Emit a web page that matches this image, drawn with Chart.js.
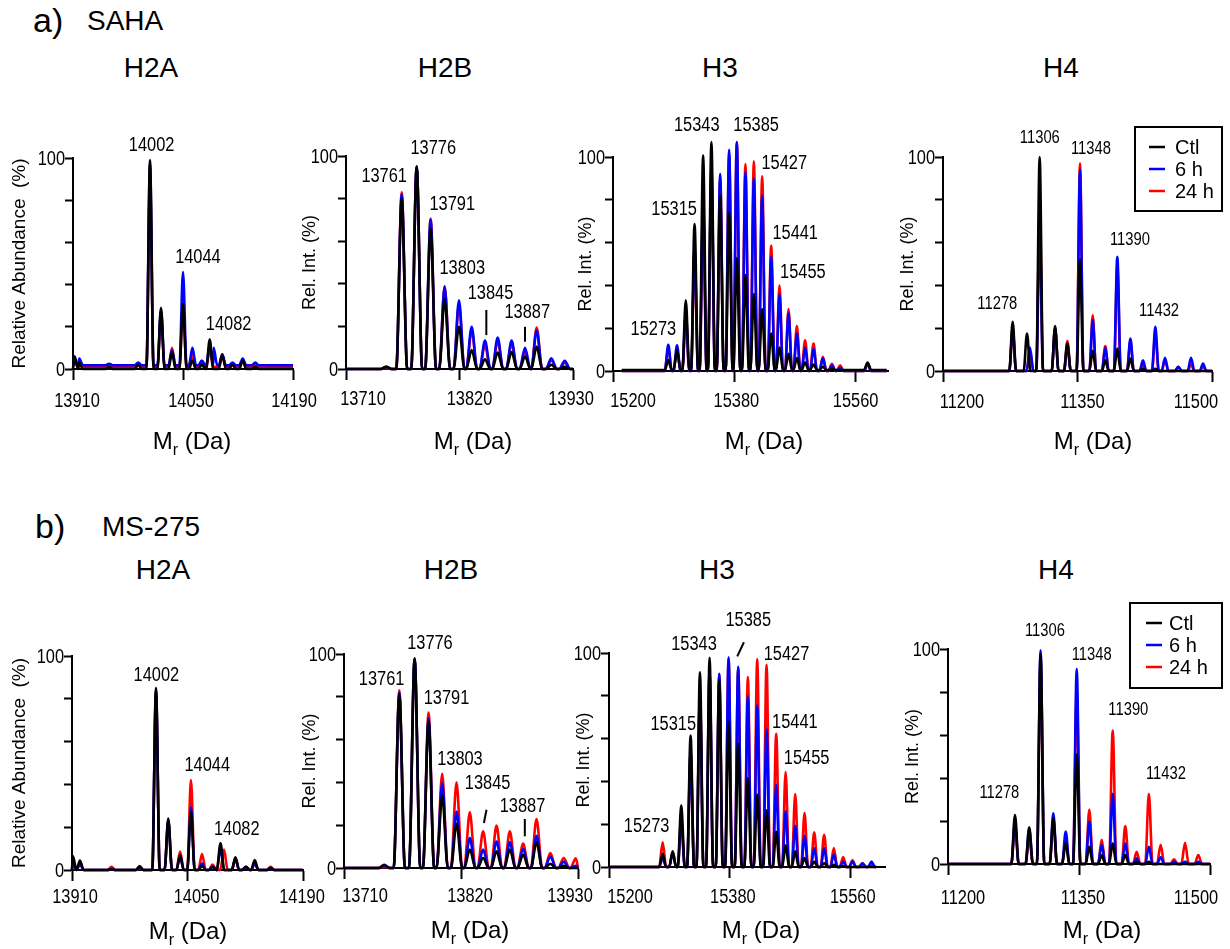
<!DOCTYPE html>
<html>
<head>
<meta charset="utf-8">
<script src="https://cdn.jsdelivr.net/npm/chart.js@4.4.1/dist/chart.umd.min.js"></script>
<style>
  html, body { margin: 0; padding: 0; background: #fff; }
  body { width: 1230px; height: 949px; position: relative; overflow: hidden; font-family: "Liberation Sans", Arial, sans-serif; }
  .txt { position: absolute; white-space: nowrap; line-height: 1.15; color: #000; }
  .ctr { transform: translateX(-50%); }
  canvas { position: absolute; }
</style>
</head>
<body>
<div class="txt" style="left:33px; top:1px; font-size:34px">a)</div>
<div class="txt" style="left:87px; top:5px; font-size:28px">SAHA</div>
<div class="txt ctr" style="left:151px; top:52px; font-size:28px">H2A</div>
<div class="txt ctr" style="left:445px; top:52px; font-size:28px">H2B</div>
<div class="txt ctr" style="left:720px; top:52px; font-size:28px">H3</div>
<div class="txt ctr" style="left:1061px; top:52px; font-size:28px">H4</div>

<div class="txt" style="left:35px; top:507px; font-size:34px">b)</div>
<div class="txt" style="left:102px; top:511px; font-size:28px">MS-275</div>
<div class="txt ctr" style="left:163px; top:554px; font-size:28px">H2A</div>
<div class="txt ctr" style="left:451px; top:554px; font-size:28px">H2B</div>
<div class="txt ctr" style="left:717px; top:554px; font-size:28px">H3</div>
<div class="txt ctr" style="left:1056px; top:554px; font-size:28px">H4</div>

<script>
// series: Ctl (black), 6 h (blue), 24 h (red); peak apex masses and heights (%)
const seriesNames = ['Ctl', '6 h', '24 h'];
const yTickLabels = [0, 100];

// ---- a) SAHA ----
const aH2A_ticks = [13910, 14050, 14190];
const aH2A_mass = [13912, 13918, 13956, 13993, 14008, 14022, 14036, 14050, 14062, 14074, 14084, 14089, 14100, 14113, 14126, 14142];
const aH2A_ctl  = [6, 3, 1, 2, 99, 29, 8, 31, 4, 2, 14, 0, 7, 2, 4, 1];
const aH2A_6h   = [3, 5, 2.5, 3, 97, 28, 9, 46, 10, 4, 11, 10, 7, 3, 5, 3];
const aH2A_24h  = [3, 4, 2, 2, 90, 27, 10, 30, 7, 3, 9, 0, 6, 2, 4, 2];
const aH2A_base = [0, 1.8, 1];
const aH2A_labels = [['14002', 14010, 105.8], ['14044', 14069, 53], ['14082', 14108, 20.9]];

const aH2B_ticks = [13710, 13820, 13930];
const aH2B_mass = [13749, 13764, 13778.5, 13792, 13805.6, 13819.5, 13831.8, 13844.7, 13857, 13870.5, 13883.5, 13894.8, 13909, 13922];
const aH2B_ctl  = [1, 80, 95, 66, 32.7, 19.8, 8.9, 4.5, 7.7, 8, 5.8, 10.5, 2, 1];
const aH2B_6h   = [1, 82, 95, 70, 38.6, 32.3, 19.8, 13.3, 14.8, 13.3, 10, 18, 5, 3.9];
const aH2B_24h  = [0.5, 83, 95, 70.6, 39, 30, 18, 11, 13, 12, 8, 19.5, 4, 3];
const aH2B_base = [0, 0, 0];
const aH2B_labels = [['13761', 13747, 90.2], ['13776', 13794.6, 103.4], ['13791', 13813, 77.3],
                     ['13803', 13822.7, 47.2], ['13845', 13850, 35.5], ['13887', 13885.7, 26.4]];
const aH2B_marks = [[13846, 27.7, 13846, 15.9], [13883.5, 19.8, 13883.5, 12.8]];

const aH3_ticks = [15200, 15380, 15560];
const aH3_mass = [15282, 15295, 15308, 15321, 15333.7, 15346, 15359, 15372.3, 15383.7, 15396.5, 15409,
                  15421.3, 15434.7, 15447, 15460.4, 15472.8, 15485, 15497.5, 15511.4, 15524.8, 15537, 15577.7];
const aH3_ctl  = [5, 9.7, 33, 68.7, 100.8, 107, 82, 74, 52.7, 44.8, 36, 29, 17.5, 11, 8, 6, 4, 3, 2, 1, 0.5, 4];
const aH3_6h   = [12.3, 12, 27, 57.6, 78, 95, 92, 103.4, 107, 92.8, 90, 82, 53.4, 36, 27, 17.5, 11, 10.5, 6, 2.7, 1.5, 3.5];
const aH3_24h  = [11, 10, 25, 53, 75, 90, 90, 101, 107, 96.7, 98, 91, 58.6, 40, 29, 21, 14.4, 12.8, 6.6, 3.4, 2.7, 3.5];
const aH3_base = [0.5, 0, 0];
const aH3_labels = [['15343', 15324.3, 114.7], ['15385', 15412.4, 114.7], ['15427', 15454, 97.2], ['15315', 15290.6, 75.3],
                    ['15441', 15470.3, 64.4], ['15455', 15481.7, 46.1], ['15273', 15259.9, 19.4]];

const aH4_ticks = [11200, 11350, 11500];
const aH4_mass = [11277.7, 11293.7, 11297, 11307.8, 11325, 11338.7, 11352.8, 11367, 11381, 11394.4, 11409, 11423, 11436.8, 11447.6, 11462.4, 11476.6, 11490];
const aH4_ctl  = [23, 17.5, 0, 100, 21, 12.8, 52, 9.4, 5, 10.5, 5.8, 1, 1, 0, 0, 0, 0];
const aH4_6h   = [20, 0, 11, 64, 20, 12, 94, 23.8, 11, 53.4, 15.2, 5, 20.6, 6.2, 2, 6.2, 3.5];
const aH4_24h  = [18, 0, 9, 74, 20, 14, 97, 26, 11.7, 48.4, 14, 3, 17, 5, 2, 3, 2];
const aH4_base = [0, 0, 0];
const aH4_labels = [['11306', 11308, 109], ['11348', 11365, 103.5], ['11390', 11408.5, 61.3], ['11278', 11260.6, 31.3], ['11432', 11441, 28.1]];

// ---- b) MS-275 ----
const bH2A_ticks = [13910, 14050, 14190];
const bH2A_mass = [13911, 13919.6, 13957.9, 13992, 14011.8, 14026.7, 14041, 14054.2, 14067.6, 14080.4, 14090, 14094.2, 14108.1, 14120.9, 14131.5, 14150.7];
const bH2A_ctl  = [6.5, 4.4, 0.5, 1.9, 85, 24, 7, 27.3, 2, 1.5, 12.5, 0, 5.9, 1.5, 4.7, 1];
const bH2A_6h   = [4, 3, 0.5, 1, 84, 23, 6, 29.3, 3, 1.5, 10, 0, 5.5, 1.5, 3, 0.5];
const bH2A_24h  = [4, 3, 1.5, 1, 83, 23, 8.6, 42, 7.5, 2.5, 0, 9.5, 5, 1.5, 3, 1.5];
const bH2A_base = [0, 0, 0];
const bH2A_labels = [['14002', 14012.2, 91.1], ['14044', 14074, 49], ['14082', 14109.7, 18.7]];

const bH2B_ticks = [13710, 13820, 13930];
const bH2B_mass = [13747.8, 13762, 13776.4, 13789.5, 13802.3, 13815.8, 13828.3, 13840.8, 13853.4, 13865.9, 13878.4, 13891, 13904, 13916.6, 13928];
const bH2B_ctl  = [1.5, 81, 98, 68.4, 33.9, 20.7, 8.6, 4.7, 7.8, 8.6, 6.2, 12, 2, 1, 0];
const bH2B_6h   = [1, 82, 98, 70, 39.7, 26.4, 14, 8.6, 12.4, 12, 9, 15.1, 5.4, 3, 1];
const bH2B_24h  = [0.5, 83, 97.5, 72.6, 44, 40.1, 26, 17.1, 19.8, 17.1, 11.4, 22.9, 7, 4.7, 4.5];
const bH2B_base = [0, 0, 0];
const bH2B_labels = [['13761', 13745.4, 88.2], ['13776', 13790.8, 104.7], ['13791', 13806.4, 79.3],
                     ['13803', 13819, 50.5], ['13845', 13845, 39.3], ['13887', 13877.8, 28.7]];
const bH2B_marks = [[13844, 27.2, 13841.5, 21], [13880, 22.9, 13880, 14.8]];

const bH3_ticks = [15200, 15380, 15560];
const bH3_mass = [15279.9, 15294.8, 15307.6, 15321.5, 15335.4, 15349.8, 15364.2, 15378.1, 15392.4, 15406.8, 15420.7, 15434.6,
                  15449, 15463, 15477.3, 15491.2, 15505.6, 15520.4, 15534.8, 15548.7, 15562.6, 15577.5, 15590.9];
const bH3_ctl  = [6.2, 7.3, 28.8, 61.4, 91, 97.7, 87.5, 67.6, 57.6, 41.6, 33.8, 26.5, 16.4, 10.1, 7.3, 4.2, 2.6, 1.9, 1, 0.5, 0, 0, 0];
const bH3_6h   = [4.2, 6.5, 22, 53.6, 80.5, 91, 90.3, 98, 93.5, 79.7, 75.4, 64.2, 38.5, 26, 19.3, 14.6, 8.9, 8.9, 5.8, 2.6, 2.6, 1.6, 2.6];
const bH3_24h  = [11.5, 6.9, 21, 53, 80, 90.7, 90, 97, 93, 88.8, 97.2, 94.5, 62.3, 44.4, 34.1, 25.2, 16.2, 15.1, 8.9, 4.7, 3.1, 1.9, 1];
const bH3_base = [0, 0, 0];
const bH3_labels = [['15385', 15407.4, 115.2], ['15343', 15326.5, 103.9], ['15427', 15464.4, 99.2], ['15315', 15295.7, 66.5],
                    ['15441', 15476.8, 67.6], ['15455', 15494.2, 50.5], ['15273', 15256, 18.7]];
const bH3_marks = [[15400.9, 105, 15391, 98.4]];

const bH4_ticks = [11200, 11350, 11500];
const bH4_mass = [11276.7, 11293, 11306, 11320.6, 11334.8, 11347.4, 11361.8, 11376, 11388.6, 11403, 11416, 11430, 11443.5, 11458.8, 11471.4, 11486.6];
const bH4_ctl  = [22.8, 17.1, 97.8, 21.3, 9.6, 50.8, 8, 4, 9.6, 4.2, 1, 1, 0, 0, 0, 0];
const bH4_6h   = [20, 16, 99.4, 23.6, 15.1, 90.7, 19.7, 8.9, 32.6, 9.6, 2.6, 8, 3.1, 1, 1, 1];
const bH4_24h  = [17, 12, 95, 20, 12, 80.7, 25.2, 11.2, 62.1, 17.7, 5.7, 32.6, 8.9, 2.2, 9.9, 4.2];
const bH4_base = [0, 0, 0];
const bH4_labels = [['11306', 11311, 108.4], ['11348', 11364.5, 97.4], ['11390', 11406.5, 71.8], ['11278', 11258.8, 33.2], ['11432', 11449.6, 41.9]];

// ---- layout / style ----
const FONT = '"Liberation Sans", Arial, sans-serif';
const SQUEEZE = 0.82;   // condensed look for numbers
const COLORS = ['#000000', '#0000ff', '#ff0000'];
const Y_W = 75, X_H = 95, PAD_T = 80, PAD_R = 30;
const REL = 'Rel. Int. (%)';

const panels = [
  { L: 73, R: 293, T: 158, B: 369, xmin: 13910, xmax: 14190, ticks: aH2A_ticks, mass: aH2A_mass, ys: [aH2A_ctl, aH2A_6h, aH2A_24h],
    base: aH2A_base, end: [13910, 14190], hw: 4.5, labels: aH2A_labels, marks: [], lab: 20,
    tOff: [4, 8, 1], tBase: 38,
    yTitle: 'Relative Abundance  (%)', yFont: 19, yDx: 53, xtX: 192, xtY: 449 },
  { L: 346, R: 573, T: 156, B: 369, xmin: 13710, xmax: 13930, ticks: aH2B_ticks, mass: aH2B_mass, ys: [aH2B_ctl, aH2B_6h, aH2B_24h],
    base: aH2B_base, end: [13710, 13930], hw: 5.3, labels: aH2B_labels, marks: aH2B_marks, lab: 20,
    tOff: [17, 10, -2], tBase: 36,
    yTitle: REL, yFont: 18, yDx: 36, xtX: 473, xtY: 449 },
  { L: 613, R: 888, T: 157, B: 371, xmin: 15200, xmax: 15608, ticks: aH3_ticks, mass: aH3_mass, ys: [aH3_ctl, aH3_6h, aH3_24h],
    base: aH3_base, end: [15213, 15606], hw: 5.2, labels: aH3_labels, marks: [], lab: 20,
    tOff: [20, 2, 0], tBase: 36,
    yTitle: REL, yFont: 18, yDx: 27, xtX: 764, xtY: 449 },
  { L: 943, R: 1212, T: 157, B: 371, xmin: 11200, xmax: 11500, ticks: aH4_ticks, mass: aH4_mass, ys: [aH4_ctl, aH4_6h, aH4_24h],
    base: aH4_base, end: [11200, 11500], hw: 3.8, labels: aH4_labels, marks: [], lab: 18,
    tOff: [19, 5, -16], tBase: 37,
    yTitle: REL, yFont: 18, yDx: 35, xtX: 1093, xtY: 449,
    legend: { x1: 1135, y1: 127, x2: 1222, y2: 211, rows: [147, 169, 191], s1: 1149, s2: 1165, tx: 1175 } },
  { L: 72, R: 303, T: 656, B: 870, xmin: 13910, xmax: 14190, ticks: bH2A_ticks, mass: bH2A_mass, ys: [bH2A_ctl, bH2A_6h, bH2A_24h],
    base: bH2A_base, end: [13910, 14190], hw: 4.5, labels: bH2A_labels, marks: [], lab: 20,
    tOff: [3, 9, -1], tBase: 33,
    yTitle: 'Relative Abundance  (%)', yFont: 19, yDx: 52, xtX: 188, xtY: 939 },
  { L: 344, R: 578, T: 654, B: 868, xmin: 13710, xmax: 13930, ticks: bH2B_ticks, mass: bH2B_mass, ys: [bH2B_ctl, bH2B_6h, bH2B_24h],
    base: bH2B_base, end: [13710, 13930], hw: 5.3, labels: bH2B_labels, marks: bH2B_marks, lab: 20,
    tOff: [21, 9, -8], tBase: 34,
    yTitle: REL, yFont: 18, yDx: 34, xtX: 470, xtY: 938 },
  { L: 609, R: 885, T: 653, B: 867, xmin: 15200, xmax: 15611, ticks: bH3_ticks, mass: bH3_mass, ys: [bH3_ctl, bH3_6h, bH3_24h],
    base: bH3_base, end: [15200, 15598], hw: 5.2, labels: bH3_labels, marks: bH3_marks, lab: 20,
    tOff: [21, 3, 2], tBase: 36,
    yTitle: REL, yFont: 18, yDx: 25, xtX: 761, xtY: 938 },
  { L: 948, R: 1210, T: 649, B: 864, xmin: 11200, xmax: 11500, ticks: bH4_ticks, mass: bH4_mass, ys: [bH4_ctl, bH4_6h, bH4_24h],
    base: bH4_base, end: [11200, 11500], hw: 4.2, labels: bH4_labels, marks: [], lab: 18,
    tOff: [15, 4, -14], tBase: 40,
    yTitle: REL, yFont: 18, yDx: 35, xtX: 1102, xtY: 938,
    legend: { x1: 1130, y1: 603, x2: 1222, y2: 688, rows: [623, 645, 667], s1: 1146, s2: 1162, tx: 1169 } }
];

// peak list -> line points (baseline, apex, baseline)
function peakCurve(mass, heights, base, end, hw) {
  const pts = [{ x: end[0], y: base }];
  const add = (x, y) => {
    if (x > pts[pts.length - 1].x && x <= end[1]) pts.push({ x, y });
  };
  mass.forEach((m, i) => {
    const h = heights[i];
    if (h <= base) return;
    add(m - hw, base);
    add(m, h);
    add(m + hw, base);
  });
  add(end[1], base);
  return pts;
}

function narrowText(ctx, t, x, y, align) {
  ctx.save();
  ctx.translate(x, y);
  ctx.scale(SQUEEZE, 1);
  ctx.textAlign = align;
  ctx.fillText(t, 0, 0);
  ctx.restore();
}

function decor(p, cLeft, cTop) {
  return {
    id: 'decor',
    afterDatasetsDraw(chart) {
      const ctx = chart.ctx, xs = chart.scales.x, ys = chart.scales.y, a = chart.chartArea;
      ctx.save();
      ctx.fillStyle = '#000';
      ctx.strokeStyle = '#000';
      // tick labels
      ctx.font = '20px ' + FONT;
      ctx.textBaseline = 'alphabetic';
      p.ticks.forEach((v, i) => narrowText(ctx, String(v), xs.getPixelForValue(v) + p.tOff[i], a.bottom + p.tBase, 'center'));
      ctx.textBaseline = 'middle';
      yTickLabels.forEach(v => narrowText(ctx, String(v), a.left - 8, ys.getPixelForValue(v) + 1, 'right'));
      // peak labels
      ctx.font = p.lab + 'px ' + FONT;
      p.labels.forEach(([t, x, y]) => narrowText(ctx, t, xs.getPixelForValue(x), ys.getPixelForValue(y), 'center'));
      // pointer marks
      ctx.lineWidth = 2;
      p.marks.forEach(([x1, y1, x2, y2]) => {
        ctx.beginPath();
        ctx.moveTo(xs.getPixelForValue(x1), ys.getPixelForValue(y1));
        ctx.lineTo(xs.getPixelForValue(x2), ys.getPixelForValue(y2));
        ctx.stroke();
      });
      // y title
      ctx.save();
      ctx.translate(a.left - p.yDx, (a.top + a.bottom) / 2);
      ctx.rotate(-Math.PI / 2);
      ctx.font = p.yFont + 'px ' + FONT;
      ctx.textAlign = 'center';
      ctx.fillText(p.yTitle, 0, 0);
      ctx.restore();
      // x title: M_r (Da)
      const big = '24px ' + FONT, small = '16px ' + FONT;
      ctx.textAlign = 'left';
      ctx.textBaseline = 'alphabetic';
      ctx.font = big; const wM = ctx.measureText('M').width, wRest = ctx.measureText(' (Da)').width;
      ctx.font = small; const wr = ctx.measureText('r').width;
      const x0 = p.xtX - cLeft - (wM + wr + wRest) / 2;
      const yb = p.xtY - cTop;
      ctx.font = big; ctx.fillText('M', x0, yb);
      ctx.font = small; ctx.fillText('r', x0 + wM, yb + 6);
      ctx.font = big; ctx.fillText(' (Da)', x0 + wM + wr, yb);
      // legend
      if (p.legend) {
        const g = p.legend;
        ctx.lineWidth = 2;
        ctx.strokeRect(g.x1 - cLeft, g.y1 - cTop, g.x2 - g.x1, g.y2 - g.y1);
        ctx.font = '20px ' + FONT;
        ctx.textBaseline = 'middle';
        seriesNames.forEach((name, i) => {
          const y = g.rows[i] - cTop;
          ctx.strokeStyle = COLORS[i];
          ctx.lineWidth = 2.5;
          ctx.beginPath();
          ctx.moveTo(g.s1 - cLeft, y);
          ctx.lineTo(g.s2 - cLeft, y);
          ctx.stroke();
          ctx.fillText(name, g.tx - cLeft, y + 1);
        });
      }
      ctx.restore();
    }
  };
}

panels.forEach(p => {
  const cLeft = p.L - Y_W, cTop = p.T - PAD_T;
  const w = p.R - p.L + Y_W + PAD_R, h = p.B - p.T + PAD_T + X_H;
  const cv = document.createElement('canvas');
  cv.width = w; cv.height = h;
  cv.style.left = cLeft + 'px'; cv.style.top = cTop + 'px';
  cv.style.width = w + 'px'; cv.style.height = h + 'px';
  document.body.appendChild(cv);

  const datasets = p.ys.map((vals, i) => ({
    label: seriesNames[i],
    data: peakCurve(p.mass, vals, p.base[i], p.end, p.hw),
    borderColor: COLORS[i],
    borderWidth: 2.6,
    pointRadius: 0,
    cubicInterpolationMode: 'monotone',
    clip: false,
    fill: false
  }));

  new Chart(cv.getContext('2d'), {
    type: 'line',
    data: { datasets },
    options: {
      responsive: false,
      animation: false,
      devicePixelRatio: 1,
      layout: { padding: { left: 0, top: PAD_T, right: PAD_R, bottom: 0 } },
      plugins: { legend: { display: false }, tooltip: { enabled: false } },
      scales: {
        x: {
          type: 'linear', min: p.xmin, max: p.xmax,
          afterBuildTicks: s => { s.ticks = p.ticks.map(v => ({ value: v })); },
          afterFit: s => { s.height = X_H; s.paddingLeft = 0; s.paddingRight = 0; },
          ticks: { callback: v => String(v), color: 'rgba(0,0,0,0)', font: { family: FONT, size: 19 }, maxRotation: 0, autoSkip: false },
          grid: { display: true, drawOnChartArea: false, drawTicks: true, tickLength: 11, tickWidth: 2, tickColor: '#000' },
          border: { display: true, color: '#000', width: 2 }
        },
        y: {
          min: 0, max: 100,
          afterFit: s => { s.width = Y_W; s.paddingTop = 0; s.paddingBottom = 0; },
          ticks: { stepSize: 20, callback: v => String(v), color: 'rgba(0,0,0,0)', font: { family: FONT, size: 19 } },
          grid: { display: true, drawOnChartArea: false, drawTicks: true, tickLength: 8, tickWidth: 2, tickColor: '#000' },
          border: { display: true, color: '#000', width: 2 }
        }
      }
    },
    plugins: [decor(p, cLeft, cTop)]
  });
});
</script>
</body>
</html>
